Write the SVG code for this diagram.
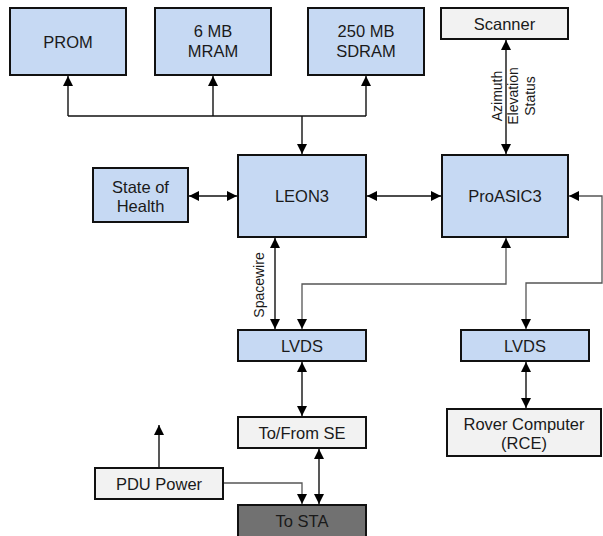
<svg xmlns="http://www.w3.org/2000/svg" width="603" height="536" viewBox="0 0 603 536">
<defs>
<marker id="ah" markerUnits="userSpaceOnUse" markerWidth="10" markerHeight="10" viewBox="0 0 10 10" refX="10" refY="5" orient="auto-start-reverse">
<path d="M0,0 L10,5 L0,10 z" fill="#000"/>
</marker>
<style>
.b{fill:#c6d9f3;stroke:#111;stroke-width:2}
.g{fill:#f2f2f2;stroke:#111;stroke-width:2}
.d{fill:#717171;stroke:#111;stroke-width:2}
.t{font-family:"Liberation Sans",Arial,sans-serif;font-size:16.5px;fill:#1a1a1a;text-anchor:middle}
.s{font-family:"Liberation Sans",Arial,sans-serif;font-size:14px;fill:#1a1a1a;text-anchor:middle}
.c{fill:none;stroke:#111;stroke-width:1.4}
.cg{fill:none;stroke:#555;stroke-width:1.3}
</style>
</defs>
<rect width="603" height="536" fill="#fff"/>
<g id="connectors">
<path class="c" d="M68,116 H366"/>
<path class="c" d="M68,116 V76" marker-end="url(#ah)"/>
<path class="c" d="M213,116 V76" marker-end="url(#ah)"/>
<path class="c" d="M366,116 V76" marker-end="url(#ah)"/>
<path class="c" d="M302,116 V154" marker-end="url(#ah)"/>
<path class="c" d="M189,196 H237" marker-start="url(#ah)" marker-end="url(#ah)"/>
<path class="c" d="M367,196 H441" marker-start="url(#ah)" marker-end="url(#ah)"/>
<path class="c" d="M506,40 V154" marker-start="url(#ah)" marker-end="url(#ah)"/>
<path class="c" d="M275,238 V329" marker-start="url(#ah)" marker-end="url(#ah)"/>
<path class="cg" d="M506,238 V284 H302 V329" marker-start="url(#ah)" marker-end="url(#ah)"/>
<path class="cg" d="M526,329 V283 H602 V196 H569" marker-start="url(#ah)" marker-end="url(#ah)"/>
<path class="c" d="M302,362 V416" marker-start="url(#ah)" marker-end="url(#ah)"/>
<path class="c" d="M526,362 V408" marker-start="url(#ah)" marker-end="url(#ah)"/>
<path class="c" d="M319,449 V504" marker-start="url(#ah)" marker-end="url(#ah)"/>
<path class="cg" d="M224,483 H302 V504" marker-end="url(#ah)"/>
<path class="c" d="M159,467 V425" marker-end="url(#ah)"/>
<text class="s" transform="translate(259,285) rotate(-90)" dy=".35em">Spacewire</text>
<text class="s" transform="translate(497,96) rotate(-90)" dy=".35em">Azimuth</text>
<text class="s" transform="translate(513,96) rotate(-90)" dy=".35em">Elevation</text>
<text class="s" transform="translate(530,96) rotate(-90)" dy=".35em">Status</text>
</g>
<g id="prom"><rect class="b" x="10" y="8" width="116" height="67"/><text class="t" x="68" y="47.5">PROM</text></g>
<g id="mram"><rect class="b" x="155" y="8" width="116" height="67"/><text class="t" x="213" y="37">6 MB</text><text class="t" x="213" y="57">MRAM</text></g>
<g id="sdram"><rect class="b" x="308" y="8" width="116" height="67"/><text class="t" x="366" y="37">250 MB</text><text class="t" x="366" y="57">SDRAM</text></g>
<g id="scanner"><rect class="g" x="441" y="8" width="127" height="31"/><text class="t" x="504.5" y="29.5">Scanner</text></g>
<g id="soh"><rect class="b" x="93" y="168" width="95" height="54"/><text class="t" x="140.5" y="192.5">State of</text><text class="t" x="140.5" y="211.5">Health</text></g>
<g id="leon3"><rect class="b" x="238" y="155" width="128" height="82"/><text class="t" x="302" y="202">LEON3</text></g>
<g id="proasic3"><rect class="b" x="442" y="155" width="126" height="82"/><text class="t" x="505" y="202">ProASIC3</text></g>
<g id="lvds1"><rect class="b" x="238" y="330" width="128" height="31"/><text class="t" x="302" y="351.5">LVDS</text></g>
<g id="lvds2"><rect class="b" x="461" y="330" width="128" height="31"/><text class="t" x="525" y="351.5">LVDS</text></g>
<g id="tofromse"><rect class="g" x="238" y="417" width="128" height="31"/><text class="t" x="302" y="438.5">To/From SE</text></g>
<g id="rover"><rect class="g" x="447" y="409" width="154" height="47"/><text class="t" x="524" y="429.5">Rover Computer</text><text class="t" x="524" y="448.5">(RCE)</text></g>
<g id="pdu"><rect class="g" x="95" y="468" width="128" height="31"/><text class="t" x="159" y="489.5">PDU Power</text></g>
<g id="tosta"><rect class="d" x="238" y="505" width="128" height="33"/><text class="t" x="302" y="527">To STA</text></g>
</svg>
